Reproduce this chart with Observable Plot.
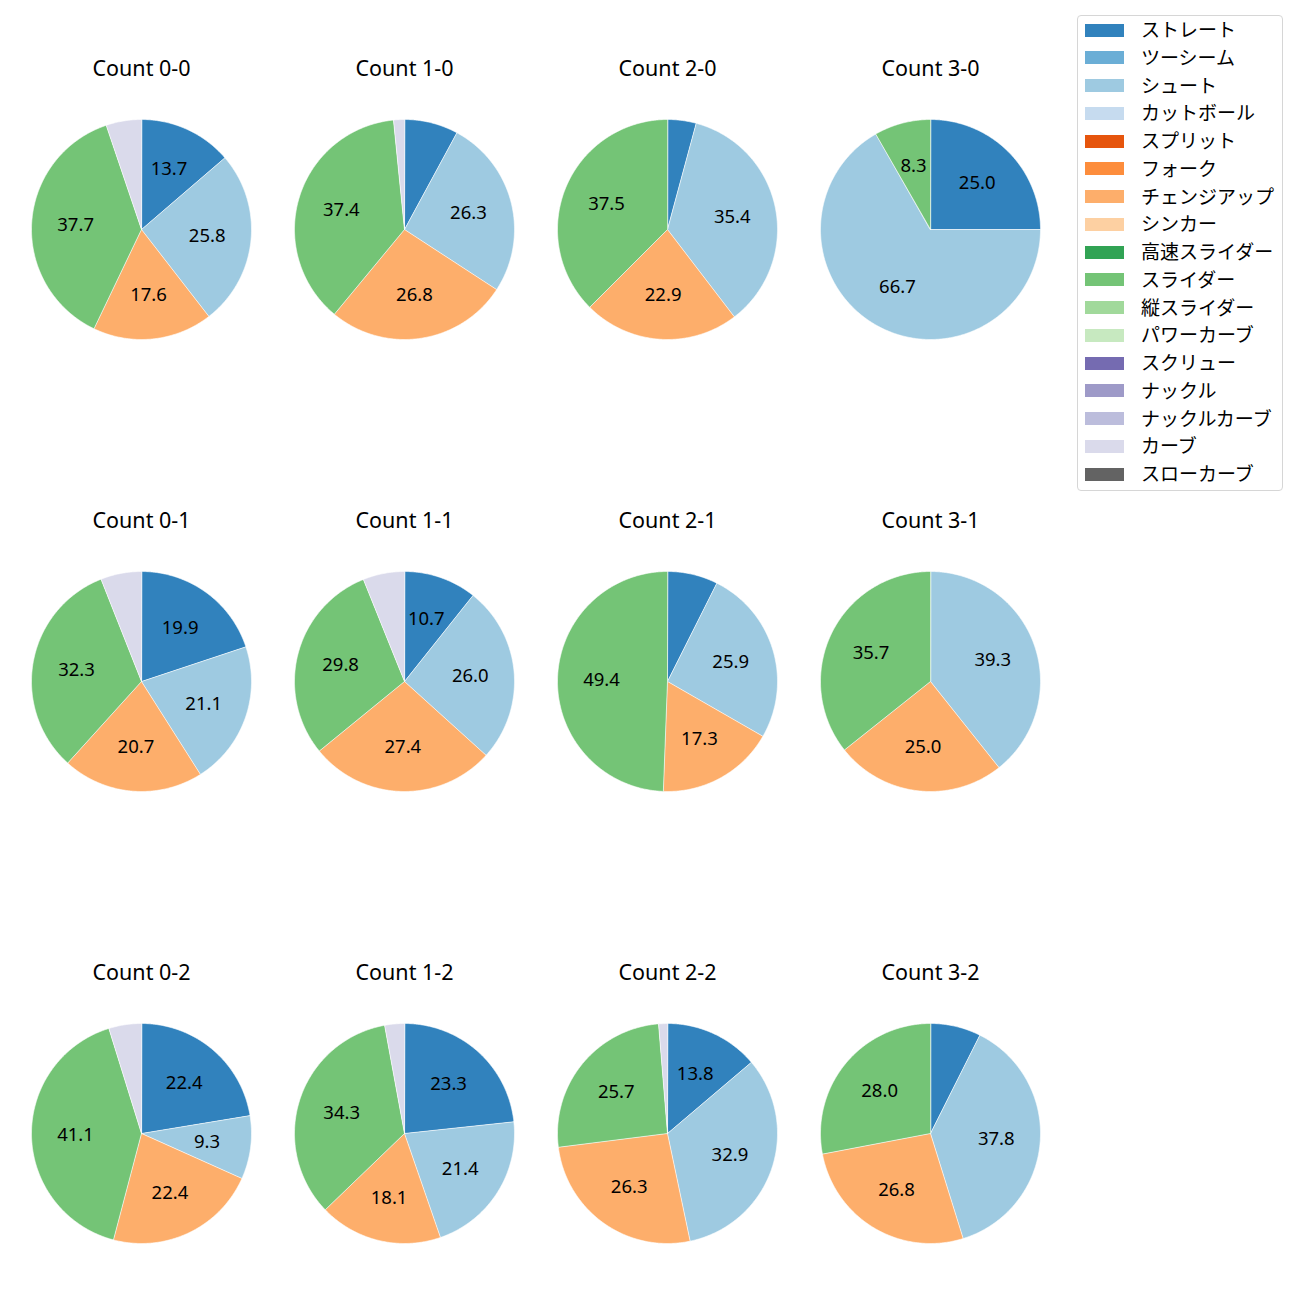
<!DOCTYPE html>
<html>
<head>
<meta charset="utf-8">
<script src="https://cdn.jsdelivr.net/npm/d3@7"></script>
<script src="https://cdn.jsdelivr.net/npm/@observablehq/plot@0.6"></script>
<style>
  html, body { margin: 0; padding: 0; background: #fff; }
  #root { position: relative; width: 1300px; height: 1300px; font-family: "Noto Sans", "Noto Sans CJK JP", sans-serif; }
  .cell { position: absolute; }
  #legend { position: absolute; left: 1077px; top: 15px; width: 206px; height: 476px; border: 1px solid #d6d6d6; border-radius: 4px; box-sizing: border-box; background: rgba(255,255,255,0.8); }
  .lg-item { position: absolute; left: 0; height: 20px; }
  .lg-sw { position: absolute; left: 7px; width: 39px; height: 13px; }
  .lg-tx { position: absolute; left: 63px; font-size: 19px; line-height: 20px; color: #000; white-space: nowrap; font-family: "Noto Sans CJK JP", sans-serif; }
</style>
</head>
<body>
<div id="root"></div>
<script>
// ---- data ----
const pitchTypes = ["ストレート","ツーシーム","シュート","カットボール","スプリット","フォーク","チェンジアップ","シンカー","高速スライダー","スライダー","縦スライダー","パワーカーブ","スクリュー","ナックル","ナックルカーブ","カーブ","スローカーブ"];
const pitchColors = ["#3182bd","#6baed6","#9ecae1","#c6dbef","#e6550d","#fd8d3c","#fdae6b","#fdd0a2","#31a354","#74c476","#a1d99b","#c7e9c0","#756bb1","#9e9ac8","#bcbddc","#dadaeb","#636363"];
const counts = ["0-0","1-0","2-0","3-0","0-1","1-1","2-1","3-1","0-2","1-2","2-2","3-2"];
const straight = [13.7, 7.9, 4.2, 25.0, 19.9, 10.7, 7.4, 0, 22.4, 23.3, 13.8, 7.4];
const shoot    = [25.8, 26.3, 35.4, 66.7, 21.1, 26.0, 25.9, 39.3, 9.3, 21.4, 32.9, 37.8];
const changeup = [17.6, 26.8, 22.9, 0, 20.7, 27.4, 17.3, 25.0, 22.4, 18.1, 26.3, 26.8];
const slider   = [37.7, 37.4, 37.5, 8.3, 32.3, 29.8, 49.4, 35.7, 41.1, 34.3, 25.7, 28.0];
const curve    = [5.2, 1.6, 0, 0, 6.0, 6.1, 0, 0, 4.8, 2.9, 1.3, 0];
const labelThreshold = 8;

const seriesOrder = [
  ["ストレート", straight],
  ["シュート", shoot],
  ["チェンジアップ", changeup],
  ["スライダー", slider],
  ["カーブ", curve]
];

// ---- layout ----
const R = 110;            // pie radius px
const half = 120;         // half of inner frame px
const colX0 = 141, colStep = 263;
const rowY0 = 229, rowStep = 452;
const root = document.getElementById("root");
const dom = half / R;

counts.forEach((cnt, i) => {
  const col = i % 4, row = Math.floor(i / 4);
  const rows = seriesOrder.map(([name, arr]) => ({name, value: arr[i]})).filter(d => d.value > 0);
  const arcs = d3.pie().sort(null).value(d => d.value).startAngle(0).endAngle(2 * Math.PI)(rows);
  const poly = [];
  const labels = [];
  arcs.forEach((a, k) => {
    const n = Math.max(2, Math.ceil((a.endAngle - a.startAngle) / 0.01));
    poly.push({k, name: a.data.name, x: 0, y: 0});
    for (let j = 0; j <= n; j++) {
      const t = a.startAngle + (a.endAngle - a.startAngle) * j / n;
      poly.push({k, name: a.data.name, x: Math.sin(t), y: Math.cos(t)});
    }
    const m = (a.startAngle + a.endAngle) / 2;
    if (a.data.value >= labelThreshold) {
      labels.push({x: 0.6 * Math.sin(m), y: 0.6 * Math.cos(m), text: a.data.value.toFixed(1)});
    }
  });
  const chart = Plot.plot({
    width: 260, height: 310,
    marginLeft: 10, marginRight: 10, marginTop: 60, marginBottom: 10,
    x: {domain: [-dom, dom], axis: null},
    y: {domain: [-dom, dom], axis: null},
    color: {domain: pitchTypes, range: pitchColors},
    style: {fontFamily: '"Noto Sans", "Noto Sans CJK JP", sans-serif', overflow: "visible"},
    marks: [
      Plot.line(poly, {x: "x", y: "y", z: "k", fill: "name", stroke: "white", strokeWidth: 0.6, curve: "linear-closed"}),
      Plot.text(labels, {x: "x", y: "y", text: "text", fontSize: 18.5, fill: "black"}),
      Plot.text(["Count " + cnt], {frameAnchor: "top", dy: -40, text: d => d, fontSize: 21.5, fill: "black", lineAnchor: "middle"})
    ]
  });
  const div = document.createElement("div");
  div.className = "cell";
  div.style.left = (colX0 + col * colStep - 130) + "px";
  div.style.top = (rowY0 + row * rowStep - 180) + "px";
  div.appendChild(chart);
  root.appendChild(div);
});

// ---- legend ----
const lg = document.createElement("div");
lg.id = "legend";
pitchTypes.forEach((name, i) => {
  const it = document.createElement("div");
  it.className = "lg-item";
  it.style.top = (13 + i * 27.75 - 10) + "px";
  const sw = document.createElement("div");
  sw.className = "lg-sw";
  sw.style.top = "4.5px";
  sw.style.background = pitchColors[i];
  const tx = document.createElement("div");
  tx.className = "lg-tx";
  tx.textContent = name;
  it.appendChild(sw); it.appendChild(tx);
  lg.appendChild(it);
});
root.appendChild(lg);
</script>
</body>
</html>
